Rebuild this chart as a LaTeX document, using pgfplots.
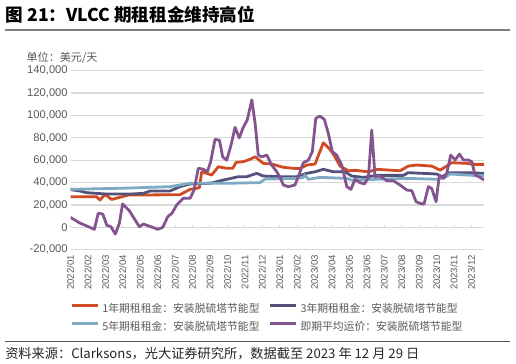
\documentclass[border=0pt]{standalone}
\usepackage{fontspec}
\setmainfont{Liberation Sans}
\newfontfamily\cjk{Noto Sans CJK SC}
\usepackage{pgfplots}
\usepackage{pgfplotstable}
\pgfplotsset{compat=1.18}
\definecolor{cred}{RGB}{208,74,36}
\definecolor{cnavy}{RGB}{82,82,122}
\definecolor{clblue}{RGB}{126,170,196}
\definecolor{cpurple}{RGB}{132,84,142}
\definecolor{gridc}{RGB}{217,217,217}
\definecolor{labc}{RGB}{89,89,89}
\definecolor{rulec}{RGB}{127,127,127}

\pgfplotstableread{
m v
0 27400
0.55 27400
1.50 27400
1.69 24500
1.98 29500
2.36 25000
2.84 26900
3.32 28900
6.28 29200
6.86 34000
7.39 35400
7.53 49700
8.10 46800
8.48 54200
8.96 52800
9.31 52800
9.50 58100
9.91 58700
10.30 60800
10.59 63100
11.06 57200
11.54 56600
12.21 53700
12.78 52800
13.17 52600
13.55 55700
14.03 56600
14.50 75600
14.89 69700
15.17 63100
15.46 54800
15.94 50600
16.32 51000
17.09 49700
17.57 51900
18.90 50600
19.38 54800
19.86 55700
20.72 54800
21.20 51200
21.58 54800
21.87 57800
22.73 57200
23.11 56300
23.72 56300
}\tred

\pgfplotstableread{
m v
0 33800
0.55 32500
0.93 31000
2.08 29800
3.41 29800
4.18 30400
4.56 32500
5.71 32500
6.28 36400
6.86 38800
8.00 39400
8.77 42300
9.63 45300
10.11 45300
10.68 48300
11.06 45900
12.02 45300
12.98 45300
13.55 48300
14.03 49700
14.50 51900
15.08 49700
15.75 49700
16.13 45900
16.80 44700
17.57 46500
19.09 46500
19.38 48900
21.01 47700
21.30 45300
21.77 48900
22.73 48900
23.72 48300
}\tnavy

\pgfplotstableread{
m v
0 34000
3.01 35000
5.71 36400
6.28 37900
6.86 39400
8.96 39400
10.87 40000
11.16 43200
12.98 43800
13.36 44700
13.45 46800
13.64 43000
14.31 44700
15.85 43800
16.13 42300
19.29 43800
21.01 43000
21.49 44700
21.77 47700
22.73 46800
23.72 45900
}\tlblue

\pgfplotstableread{
m v
0 9000
0.50 4200
1.37 -1700
1.59 12600
1.85 12000
2.08 2000
2.32 600
2.57 -5900
2.80 3600
2.99 21000
3.37 15000
3.95 600
4.18 3000
4.72 0
5.00 -1700
5.29 0
5.58 9600
5.82 12600
6.09 20000
6.47 26000
6.86 26000
7.09 33400
7.33 52800
7.62 52000
7.85 49700
8.04 58700
8.29 78600
8.54 78000
8.73 63000
8.96 60000
9.21 73600
9.44 89400
9.68 80000
9.91 89400
10.14 96000
10.40 114000
10.59 93000
10.77 64600
10.97 63000
11.26 64600
11.54 55700
11.83 49700
12.02 44700
12.21 37900
12.50 36400
12.88 37900
13.17 49700
13.36 57800
13.64 60000
13.87 67600
14.07 97400
14.31 99500
14.56 96500
14.79 84000
15.02 67600
15.27 64600
15.56 55700
15.85 36400
16.09 34000
16.32 43000
16.61 40000
16.86 38800
17.09 44700
17.28 87000
17.47 45300
17.70 45900
17.95 43800
18.14 41700
18.52 41700
18.90 37900
19.29 33400
19.58 32800
19.82 23000
20.05 21500
20.28 20900
20.53 36400
20.72 34900
20.97 23000
21.16 46800
21.39 43800
21.58 48300
21.81 64600
22.06 60200
22.31 65500
22.54 60200
22.82 60200
23.02 58700
23.21 46800
23.49 44700
23.72 42300
}\tpurple

\begin{document}
\begin{tikzpicture}
\path[use as bounding box] (0,0) rectangle (387pt,272.25pt);

% title
\node[anchor=base west, inner sep=0pt, font=\cjk\bfseries\fontsize{13.2pt}{15pt}\selectfont] at (4.2pt,256.1pt) {图 21：VLCC 期租租金维持高位};
\draw[rulec, line width=1.5pt] (3.75pt,249.5pt) -- (382.5pt,249.5pt);
\node[anchor=base west, inner sep=0pt, text=labc, font=\cjk\fontsize{8.3pt}{9pt}\selectfont] at (19.8pt,226.4pt) {单位：美元/天};

% zero line with ticks
\begin{axis}[at={(52.875pt,84.9pt)}, anchor=south west,
  width=310.125pt, height=134.325pt, scale only axis,
  xmin=0, xmax=23.72, ymin=-20000, ymax=140000,
  scaled x ticks=false, scaled y ticks=false,
  axis x line=middle, axis y line=none,
  xtick={0,...,23}, xticklabels={}, ytick=\empty, yticklabels={},
  x axis line style={-, draw=gridc, line width=0.9pt},
  major tick length=2pt, tick align=inside,
  tick style={draw=gridc, line width=0.75pt}]
\end{axis}

\begin{axis}[at={(52.875pt,84.9pt)}, anchor=south west,
  width=310.125pt, height=134.325pt, scale only axis,
  xmin=0, xmax=23.72, ymin=-20000, ymax=140000,
  scaled x ticks=false, scaled y ticks=false,
  axis line style={draw=none}, tick style={draw=none},
  ytick={-20000,0,20000,40000,60000,80000,100000,120000,140000},
  yticklabels={{-20,000},{0},{20,000},{40,000},{60,000},{80,000},{100,000},{120,000},{140,000}},
  ymajorgrids, grid style={draw=gridc, line width=0.9pt},
  yticklabel style={font=\fontsize{8.4pt}{9pt}\selectfont, text=labc, inner sep=0pt},
  yticklabel shift=1.9pt,
  xtick={0,...,23},
  xticklabels={2022/01,2022/02,2022/03,2022/04,2022/05,2022/06,2022/07,2022/08,2022/09,2022/10,2022/11,2022/12,2023/01,2023/02,2023/03,2023/04,2023/05,2023/06,2023/07,2023/08,2023/09,2023/10,2023/11,2023/12},
  xticklabel style={rotate=90, anchor=east, font=\fontsize{7.2pt}{9pt}\selectfont, text=labc, inner sep=0pt},
  xticklabel shift=3.9pt,
  legend columns=2,
  legend image code/.code={\draw[#1, line width=2.1pt] (0pt,2.5pt) -- (19.5pt,2.5pt);},
  legend style={at={(axis description cs:0.001,-0.280)}, anchor=north west,
    draw=none, fill=none, inner sep=0pt, outer sep=0pt,
    column sep=0pt, row sep=0pt,
    nodes={font=\cjk\fontsize{8.1pt}{9pt}\selectfont, text=labc, inner xsep=2pt, inner ysep=2.75pt,
      text height=6.5pt, text depth=1.5pt, text width=123pt, align=left}},
  legend cell align=left,
  every axis plot/.append style={line width=2.1pt, line join=round}
]
\addplot[cred] table[x=m,y=v] {\tred};
\addlegendentry{1年期租租金：安装脱硫塔节能型}
\addplot[cnavy] table[x=m,y=v] {\tnavy};
\addlegendentry{3年期租租金：安装脱硫塔节能型}
\addplot[clblue] table[x=m,y=v] {\tlblue};
\addlegendentry{5年期租租金：安装脱硫塔节能型}
\addplot[cpurple] table[x=m,y=v] {\tpurple};
\addlegendentry{即期平均运价：安装脱硫塔节能型}
\end{axis}

% source
\draw[labc, line width=0.9pt] (3.75pt,16pt) -- (382.5pt,16pt);
\node[anchor=base west, inner sep=0pt, text=black!85, font=\cjk\fontsize{9.9pt}{11pt}\selectfont] at (3.75pt,3.5pt) {资料来源：Clarksons，光大证券研究所，数据截至 2023 年 12 月 29 日};
\end{tikzpicture}
\end{document}
